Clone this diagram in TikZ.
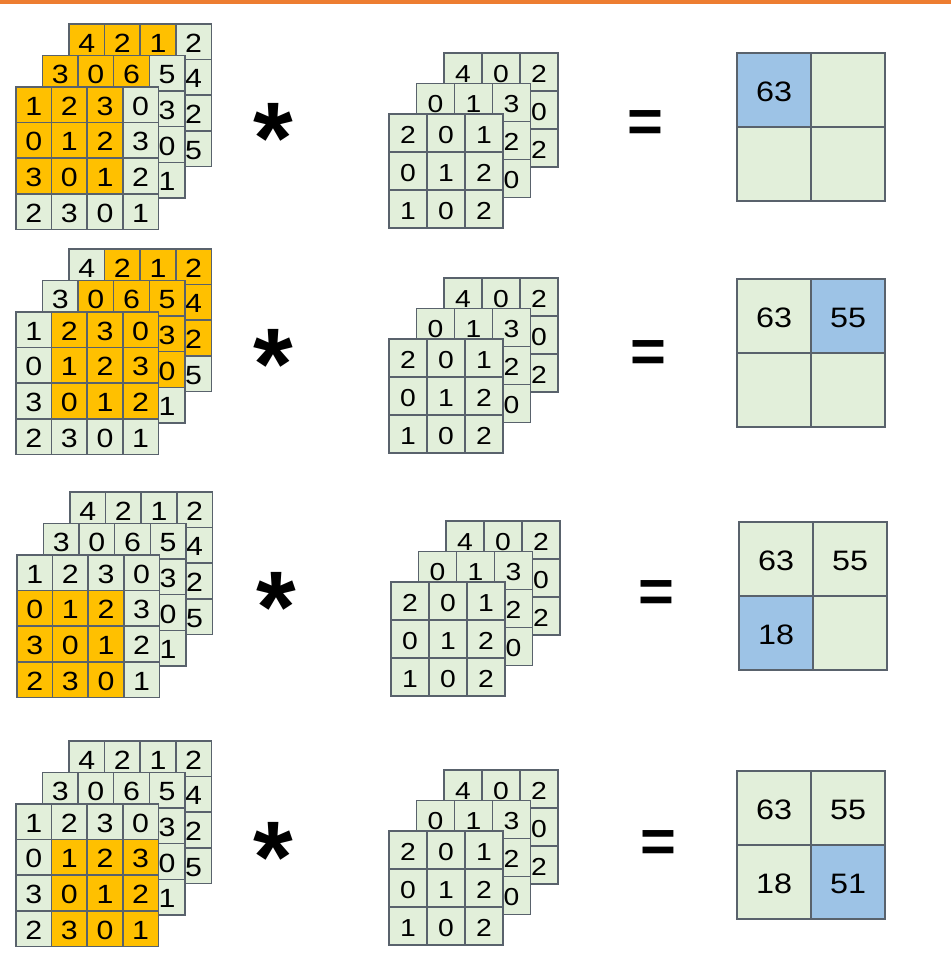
\documentclass[tikz,border=0pt]{standalone}
\usepackage{fontspec}
\setmainfont{Liberation Sans}
\newfontfamily\cellfont{Liberation Sans}[FakeStretch=1.15]
\usepackage{xcolor}
\definecolor{barorange}{RGB}{237,125,49}
\definecolor{hl}{RGB}{255,192,0}
\definecolor{pl}{RGB}{226,239,218}
\definecolor{ob}{RGB}{157,195,230}
\definecolor{gridline}{RGB}{89,98,108}

\newcommand{\pxu}{0.02cm}

% whole n x n layer: name, cell style, cell size, x, y, n, value/colour list
\newcommand{\fulllayer}[7]{%
  \foreach \v/\c [count=\k from 0] in {#7} {
    \pgfmathtruncatemacro{\ri}{div(\k,#6)}
    \pgfmathtruncatemacro{\ci}{mod(\k,#6)}
    \node[#2, fill=\c] (#1-\ri-\ci) at ({#4+(\ci+0.5)*#3},{#5+(\ri+0.5)*#3}) {\v};
  }}
% layer behind: only its top row, then its right column
\newcommand{\edgelayer}[7]{%
  \foreach \v/\c [count=\k from 0] in {#7} {
    \pgfmathtruncatemacro{\ri}{\k<#6 ? 0 : \k-#6+1}
    \pgfmathtruncatemacro{\ci}{\k<#6 ? \k : #6-1}
    \node[#2, fill=\c] (#1-\ri-\ci) at ({#4+(\ci+0.5)*#3},{#5+(\ri+0.5)*#3}) {\v};
  }}

\begin{document}
\begin{tikzpicture}[
    x=0.02cm, y=-0.02cm,
    cell/.style={
        draw=gridline,
        line width=0.85pt,
        inner sep=0pt,
        text=black,
        text depth=0pt
    },
    incell/.style={cell, minimum size=35.6*\pxu, text height=12pt, font=\cellfont\fontsize{15}{17}\selectfont},
    kcell/.style={cell, minimum size=38*\pxu, text height=11.5pt, font=\cellfont\fontsize{14}{16}\selectfont},
    outcell/.style={cell, minimum size=74*\pxu, text height=12.9pt, font=\cellfont\fontsize{16}{18}\selectfont},
    starsym/.style={font=\fontsize{58}{58}\selectfont\bfseries, inner sep=0pt},
    eqsym/.style={font=\fontsize{35}{35}\selectfont\bfseries, inner sep=0pt}
]
\useasboundingbox (0,0) rectangle (951,956);
\fill[barorange] (0,0) rectangle (951,4);

% row 1
\edgelayer{in1a}{incell}{35.6}{69}{24}{4}{4/hl,2/hl,1/hl,2/pl,4/pl,2/pl,5/pl}
\edgelayer{in1b}{incell}{35.6}{42.5}{55.5}{4}{3/hl,0/hl,6/hl,5/pl,3/pl,0/pl,1/pl}
\fulllayer{in1c}{incell}{35.6}{16}{87}{4}{1/hl,2/hl,3/hl,0/pl,0/hl,1/hl,2/hl,3/pl,3/hl,0/hl,1/hl,2/pl,2/pl,3/pl,0/pl,1/pl}
\edgelayer{k1a}{kcell}{38}{444}{53}{3}{4/pl,0/pl,2/pl,0/pl,2/pl}
\edgelayer{k1b}{kcell}{38}{416.5}{83.5}{3}{0/pl,1/pl,3/pl,2/pl,0/pl}
\fulllayer{k1c}{kcell}{38}{389}{114}{3}{2/pl,0/pl,1/pl,0/pl,1/pl,2/pl,1/pl,0/pl,2/pl}
\fulllayer{out1}{outcell}{74}{737}{53}{2}{63/ob,/pl,/pl,/pl}
\node[starsym] (star1) at (273,138) {*};
\node[eqsym] (eq1) at (645,127) {=};

% row 2
\edgelayer{in2a}{incell}{35.6}{69}{249}{4}{4/pl,2/hl,1/hl,2/hl,4/hl,2/hl,5/pl}
\edgelayer{in2b}{incell}{35.6}{42.5}{280.5}{4}{3/pl,0/hl,6/hl,5/hl,3/hl,0/hl,1/pl}
\fulllayer{in2c}{incell}{35.6}{16}{312}{4}{1/pl,2/hl,3/hl,0/hl,0/pl,1/hl,2/hl,3/hl,3/pl,0/hl,1/hl,2/hl,2/pl,3/pl,0/pl,1/pl}
\edgelayer{k2a}{kcell}{38}{444}{278}{3}{4/pl,0/pl,2/pl,0/pl,2/pl}
\edgelayer{k2b}{kcell}{38}{416.5}{308.5}{3}{0/pl,1/pl,3/pl,2/pl,0/pl}
\fulllayer{k2c}{kcell}{38}{389}{339}{3}{2/pl,0/pl,1/pl,0/pl,1/pl,2/pl,1/pl,0/pl,2/pl}
\fulllayer{out2}{outcell}{74}{737}{279}{2}{63/pl,55/ob,/pl,/pl}
\node[starsym] (star2) at (273,364) {*};
\node[eqsym] (eq2) at (648,357) {=};

% row 3
\edgelayer{in3a}{incell}{35.6}{70}{492}{4}{4/pl,2/pl,1/pl,2/pl,4/pl,2/pl,5/pl}
\edgelayer{in3b}{incell}{35.6}{43.5}{523.5}{4}{3/pl,0/pl,6/pl,5/pl,3/pl,0/pl,1/pl}
\fulllayer{in3c}{incell}{35.6}{17}{555}{4}{1/pl,2/pl,3/pl,0/pl,0/hl,1/hl,2/hl,3/pl,3/hl,0/hl,1/hl,2/pl,2/hl,3/hl,0/hl,1/pl}
\edgelayer{k3a}{kcell}{38}{446}{521}{3}{4/pl,0/pl,2/pl,0/pl,2/pl}
\edgelayer{k3b}{kcell}{38}{418.5}{551.5}{3}{0/pl,1/pl,3/pl,2/pl,0/pl}
\fulllayer{k3c}{kcell}{38}{391}{582}{3}{2/pl,0/pl,1/pl,0/pl,1/pl,2/pl,1/pl,0/pl,2/pl}
\fulllayer{out3}{outcell}{74}{739}{522}{2}{63/pl,55/pl,18/ob,/pl}
\node[starsym] (star3) at (276,607) {*};
\node[eqsym] (eq3) at (656,597) {=};

% row 4
\edgelayer{in4a}{incell}{35.6}{69}{741}{4}{4/pl,2/pl,1/pl,2/pl,4/pl,2/pl,5/pl}
\edgelayer{in4b}{incell}{35.6}{42.5}{772.5}{4}{3/pl,0/pl,6/pl,5/pl,3/pl,0/pl,1/pl}
\fulllayer{in4c}{incell}{35.6}{16}{804}{4}{1/pl,2/pl,3/pl,0/pl,0/pl,1/hl,2/hl,3/hl,3/pl,0/hl,1/hl,2/hl,2/pl,3/hl,0/hl,1/hl}
\edgelayer{k4a}{kcell}{38}{444}{770}{3}{4/pl,0/pl,2/pl,0/pl,2/pl}
\edgelayer{k4b}{kcell}{38}{416.5}{800.5}{3}{0/pl,1/pl,3/pl,2/pl,0/pl}
\fulllayer{k4c}{kcell}{38}{389}{831}{3}{2/pl,0/pl,1/pl,0/pl,1/pl,2/pl,1/pl,0/pl,2/pl}
\fulllayer{out4}{outcell}{74}{737}{771}{2}{63/pl,55/pl,18/pl,51/ob}
\node[starsym] (star4) at (273,857) {*};
\node[eqsym] (eq4) at (658,847) {=};

\end{tikzpicture}
\end{document}
